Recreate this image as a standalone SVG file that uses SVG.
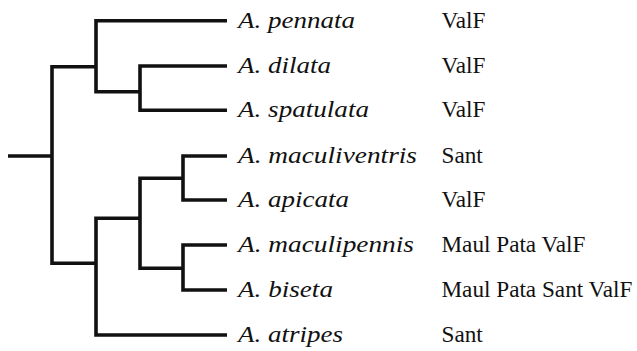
<svg xmlns="http://www.w3.org/2000/svg" width="637" height="351" viewBox="0 0 637 351">
<style>
.br{fill:none;stroke:#111;stroke-width:3.6;stroke-linejoin:miter;stroke-linecap:butt}
.sp{font-family:"Liberation Serif","Times New Roman",serif;font-style:italic;font-size:23px;fill:#111}
.rg{font-family:"Liberation Serif","Times New Roman",serif;font-size:23.2px;fill:#111}
</style>
<rect width="637" height="351" fill="#fff"/>
<g id="connectors">
<path class="br" d="M8,156 H52"/>
<path class="br" d="M96,66.7 H52 V263.3 H96"/>
<path class="br" d="M227,20.7 H96 V91.7 H140"/>
<path class="br" d="M227,66 H140 V110.3 H227"/>
<path class="br" d="M140,218.3 H96 V335 H227"/>
<path class="br" d="M183,178.3 H140 V268.3 H183"/>
<path class="br" d="M227,156 H183 V200 H227"/>
<path class="br" d="M227,245 H183 V290 H227"/>
</g>
<g id="pennata"><text class="sp" x="238" y="27.5" textLength="117" lengthAdjust="spacingAndGlyphs">A. pennata</text><text class="rg" x="441.5" y="27.5">ValF</text></g>
<g id="dilata"><text class="sp" x="238" y="73" textLength="93" lengthAdjust="spacingAndGlyphs">A. dilata</text><text class="rg" x="441.5" y="73">ValF</text></g>
<g id="spatulata"><text class="sp" x="238" y="117.3" textLength="131" lengthAdjust="spacingAndGlyphs">A. spatulata</text><text class="rg" x="441.5" y="117.3">ValF</text></g>
<g id="maculiventris"><text class="sp" x="238" y="162.7" textLength="179" lengthAdjust="spacingAndGlyphs">A. maculiventris</text><text class="rg" x="441.5" y="162.7">Sant</text></g>
<g id="apicata"><text class="sp" x="238" y="207" textLength="111" lengthAdjust="spacingAndGlyphs">A. apicata</text><text class="rg" x="441.5" y="207">ValF</text></g>
<g id="maculipennis"><text class="sp" x="238" y="252" textLength="176" lengthAdjust="spacingAndGlyphs">A. maculipennis</text><text class="rg" x="441.5" y="252">Maul Pata ValF</text></g>
<g id="biseta"><text class="sp" x="238" y="297" textLength="95" lengthAdjust="spacingAndGlyphs">A. biseta</text><text class="rg" x="441.5" y="297">Maul Pata Sant ValF</text></g>
<g id="atripes"><text class="sp" x="238" y="342" textLength="105" lengthAdjust="spacingAndGlyphs">A. atripes</text><text class="rg" x="441.5" y="342">Sant</text></g>
</svg>
